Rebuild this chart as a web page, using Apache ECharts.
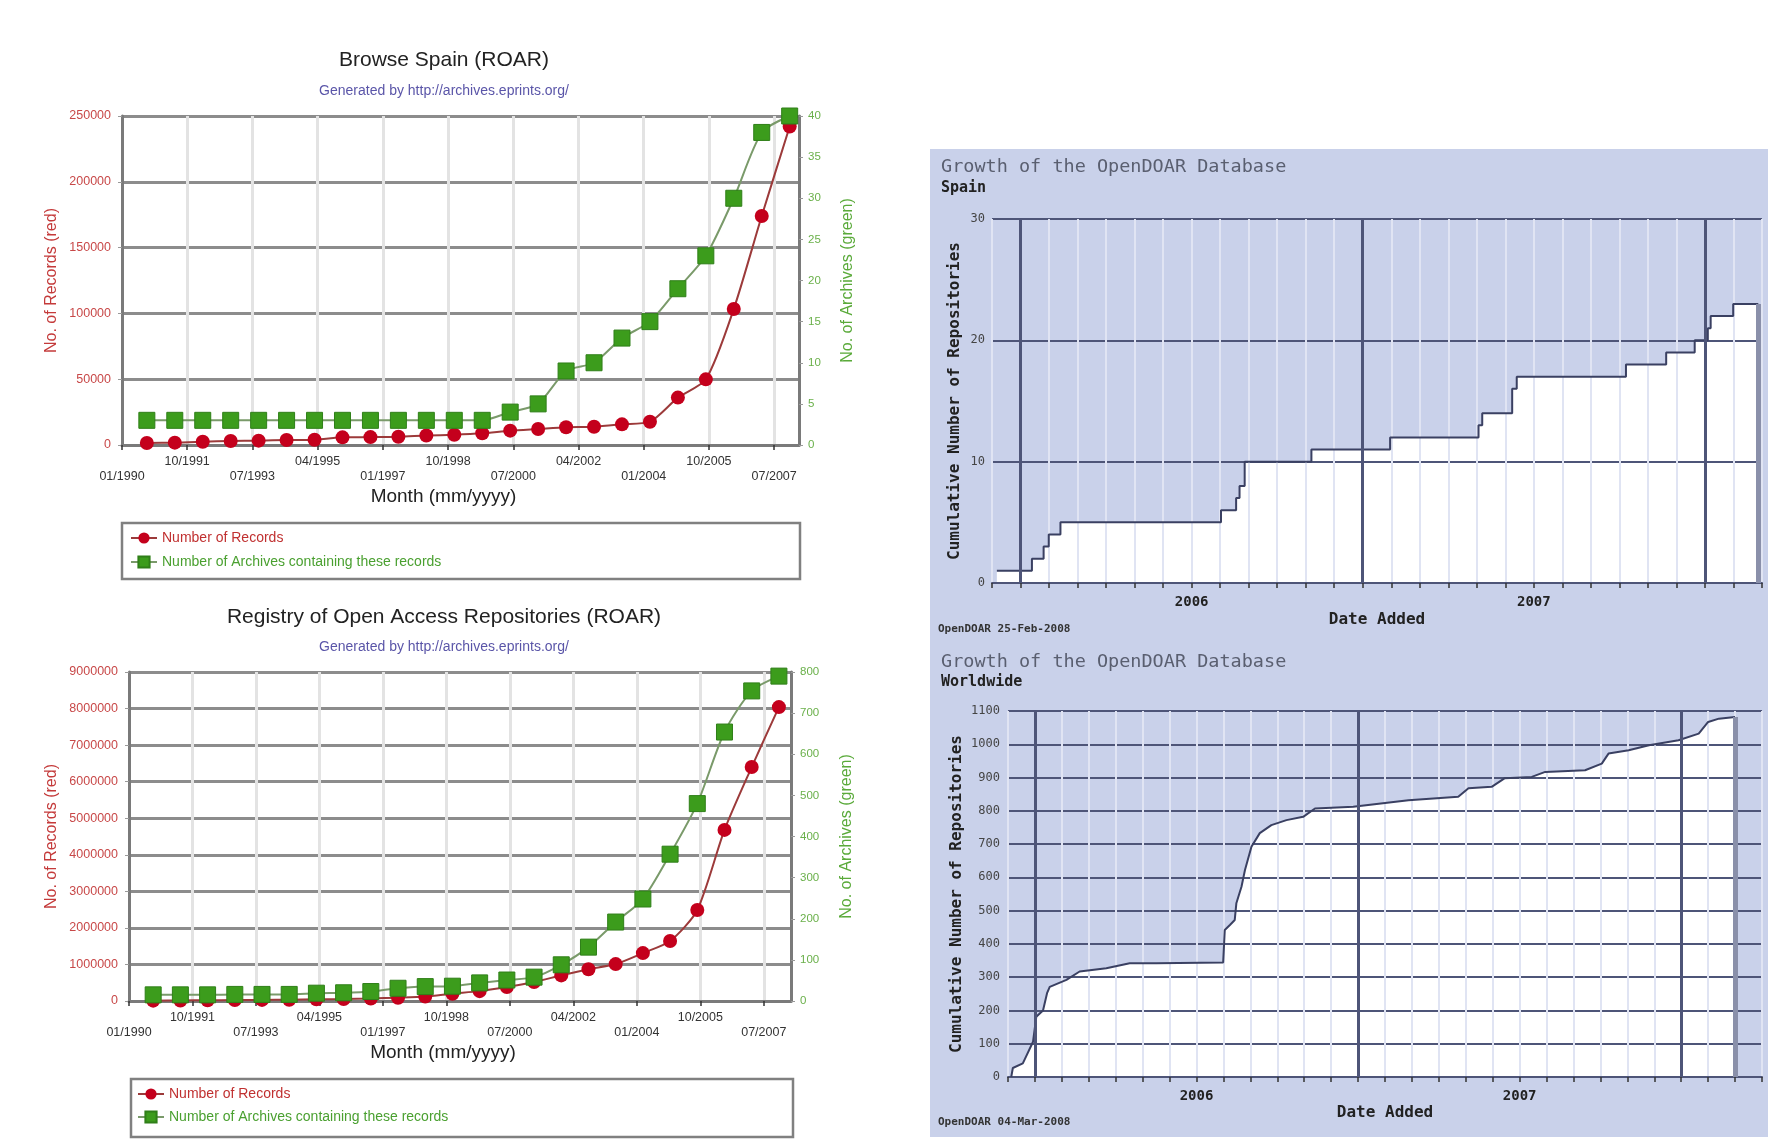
<!DOCTYPE html>
<html><head><meta charset="utf-8">
<script src="https://cdn.jsdelivr.net/npm/echarts@6/dist/echarts.min.js"></script>
<style>
html,body{margin:0;padding:0;background:#fff;}
#bg{position:absolute;left:930px;top:149px;width:838px;height:988px;background:#c9d1ea;}
#main{position:absolute;left:0;top:0;width:1778px;height:1145px;}
</style></head><body>
<div id="bg"></div><div id="main"></div>
<script>
// ---- ROAR (left) data: months counted from 01/1990 ----
const roarMonths = [8,17,26,35,44,53,62,71,80,89,98,107,116,125,134,143,152,161,170,179,188,197,206,215];
const spainRecords = [1500,1800,2500,3000,3300,3800,4000,5800,6000,6300,7200,7800,8900,10900,12200,13500,13900,15700,17700,36000,49900,103400,174000,242000];
const spainArchives = [3,3,3,3,3,3,3,3,3,3,3,3,3,4,5,9,10,13,15,19,23,30,38,40];
const worldRecords = [10000,15000,20000,25000,30000,35000,45000,55000,70000,90000,120000,200000,270000,380000,520000,700000,870000,1010000,1310000,1640000,2490000,4680000,6400000,8040000];
const worldArchives = [15,15,15,16,16,16,19,20,23,31,35,36,44,51,58,88,131,192,248,357,480,654,754,790];
const roarTickLabels = ['01/1990','10/1991','07/1993','04/1995','01/1997','10/1998','07/2000','04/2002','01/2004','10/2005','07/2007'];

// ---- OpenDOAR (right) data: months counted from Jan 2006 ----
const doarSpainMonths = [-0.83,0.40,0.81,0.99,1.40,7.03,7.56,7.68,7.86,10.20,12.96,16.06,16.19,17.24,17.40,21.23,22.64,23.64,24.10,24.20,24.99,25.87];
const doarSpainCounts = [1,2,3,4,5,6,7,8,10,11,12,13,14,16,17,18,19,20,21,22,23,23];
const doarWorldMonths = [-0.88,-0.82,-0.45,-0.07,0.05,0.30,0.45,0.55,1.17,1.66,2.65,3.52,4.51,6.99,7.05,7.24,7.42,7.48,7.67,7.80,8.04,8.35,8.78,9.34,9.96,10.40,11.82,13.87,15.72,16.10,16.96,17.45,18.45,18.95,20.43,21.05,21.30,22.05,22.80,23.90,24.65,25.00,25.40,26.00];
const doarWorldCounts = [0,27,41,106,181,200,252,271,292,317,327,342,342,344,442,457,472,522,572,622,692,733,757,772,782,807,812,832,842,868,872,898,902,917,922,942,972,982,997,1012,1032,1067,1077,1082];
const yearStarts = [0,12,24];
const yearLabelMonths = [6,18];
const yearLabels = ['2006','2007'];

const SANS = 'Liberation Sans, Arial, sans-serif';
const MONO = 'DejaVu Sans Mono, monospace';

const zip = (xs, ys) => xs.map((x, i) => [x, ys[i]]);
const spainPairs = zip(roarMonths, spainRecords);
const spainArchPairs = zip(roarMonths, spainArchives);
const worldPairs = zip(roarMonths, worldRecords);
const worldArchPairs = zip(roarMonths, worldArchives);
const doarSpain = zip(doarSpainMonths, doarSpainCounts);
const doarWorld = zip(doarWorldMonths, doarWorldCounts);

function roarXLabel(v) {
  if (v % 21 !== 0) return '';
  const i = v / 21;
  const s = roarTickLabels[i] || '';
  return i % 2 === 0 ? '\n' + s : s;
}
function doarXLabel(v) {
  const k = yearLabelMonths.indexOf(v);
  return k >= 0 ? yearLabels[k] : '';
}

function roarX(gridIndex, max) {
  return {
    type: 'value', gridIndex, min: 0, max, interval: 21,
    name: 'Month (mm/yyyy)', nameLocation: 'middle', nameGap: 42, nameMoveOverlap: false,
    nameTextStyle: {fontFamily: SANS, fontSize: 19, color: '#222', padding: [0, 34, 0, 0]},
    axisLine: {show: true, onZero: false, lineStyle: {color: '#7a7a7a', width: 3}},
    axisTick: {show: true, length: 5, lineStyle: {color: '#333', width: 1.5}},
    axisLabel: {formatter: roarXLabel, fontFamily: SANS, fontSize: 12.5, color: '#333', lineHeight: 15, margin: 9, showMaxLabel: false},
    splitLine: {show: true, lineStyle: {color: '#e3e3e3', width: 3}}
  };
}
function roarYLeft(gridIndex, max, interval, gap) {
  return {
    type: 'value', gridIndex, position: 'left', min: 0, max, interval,
    name: 'No. of Records (red)', nameLocation: 'middle', nameGap: gap, nameRotate: 90, nameMoveOverlap: false,
    nameTextStyle: {fontFamily: SANS, fontSize: 16, color: '#c43a3a'},
    axisLine: {show: true, lineStyle: {color: '#7a7a7a', width: 3}},
    axisTick: {show: true, length: 4, lineStyle: {color: '#999'}},
    axisLabel: {formatter: v => String(v), fontFamily: SANS, fontSize: 12.5, color: '#c84848', margin: 11},
    splitLine: {show: true, lineStyle: {color: '#8c8c8c', width: 3}}
  };
}
function roarYRight(gridIndex, max, interval, gap) {
  return {
    type: 'value', gridIndex, position: 'right', min: 0, max, interval,
    name: 'No. of Archives (green)', nameLocation: 'middle', nameGap: gap, nameRotate: 90, nameMoveOverlap: false,
    nameTextStyle: {fontFamily: SANS, fontSize: 16, color: '#5aaa3a'},
    axisLine: {show: true, lineStyle: {color: '#7a7a7a', width: 3}},
    axisTick: {show: true, length: 4, lineStyle: {color: '#999'}},
    axisLabel: {formatter: v => String(v), fontFamily: SANS, fontSize: 11.5, color: '#6ab04a', margin: 9},
    splitLine: {show: false}
  };
}
function doarX(gridIndex, max, gap) {
  return {
    type: 'value', gridIndex, min: -1, max, interval: 1,
    name: 'Date Added', nameLocation: 'middle', nameGap: gap, nameMoveOverlap: false,
    nameTextStyle: {fontFamily: MONO, fontWeight: 'bold', fontSize: 16, color: '#222'},
    axisLine: {show: true, onZero: false, lineStyle: {color: '#4e5578', width: 2}},
    axisTick: {show: true, length: 5, lineStyle: {color: '#333', width: 1.5}},
    axisLabel: {formatter: doarXLabel, fontFamily: MONO, fontWeight: 'bold', fontSize: 14, color: '#222', margin: 12},
    splitLine: {show: true, lineStyle: {color: '#e0e4f3', width: 2}}
  };
}
function doarY(gridIndex, max, interval, gap, margin) {
  return {
    type: 'value', gridIndex, min: 0, max, interval,
    name: 'Cumulative Number of Repositories', nameLocation: 'middle', nameGap: gap, nameRotate: 90, nameMoveOverlap: false,
    nameTextStyle: {fontFamily: MONO, fontWeight: 'bold', fontSize: 16, color: '#222'},
    axisLine: {show: true, lineStyle: {color: '#4e5578', width: 2}},
    axisTick: {show: true, length: 4, lineStyle: {color: '#4e5578'}},
    axisLabel: {formatter: v => String(v), fontFamily: MONO, fontSize: 12, color: '#444', margin},
    splitLine: {show: true, lineStyle: {color: '#4e5578', width: 2}}
  };
}
function recSeries(xi, yi, data) {
  return {name: 'Number of Records', type: 'line', xAxisIndex: xi, yAxisIndex: yi, data,
    symbol: 'circle', symbolSize: 14, smooth: 0.25,
    itemStyle: {color: '#c4001c'}, lineStyle: {color: '#9c3a3a', width: 2}, z: 3};
}
function archSeries(xi, yi, data) {
  return {name: 'Number of Archives containing these records', type: 'line', xAxisIndex: xi, yAxisIndex: yi, data,
    symbol: 'rect', symbolSize: 16, smooth: 0.25,
    itemStyle: {color: '#3c9c1c', borderColor: '#2f7f18', borderWidth: 1}, lineStyle: {color: '#7a9a6a', width: 2}, z: 4};
}
function doarSeries(xi, yi, data, step) {
  const last = data[data.length - 1];
  return [
    {type: 'line', xAxisIndex: xi, yAxisIndex: yi, data, step, symbol: 'none', silent: true,
      lineStyle: {width: 0, opacity: 0}, areaStyle: {color: '#ffffff', opacity: 1}, z: -1},
    {type: 'line', xAxisIndex: xi, yAxisIndex: yi, data, step, symbol: 'none', silent: true,
      lineStyle: {color: '#3a4062', width: 2}, z: 3,
      markLine: {silent: true, symbol: 'none', label: {show: false}, animation: false,
        lineStyle: {type: 'solid', color: '#8a90aa', width: 5},
        data: yearStarts.map(v => ({xAxis: v, lineStyle: {type: 'solid', color: '#4e5578', width: 3}}))
          .concat([[{coord: [last[0], 0]}, {coord: [last[0], last[1]]}]])}}
  ];
}
function legendFor(left, top, gap) {
  return {left, top, orient: 'vertical', itemGap: gap, itemWidth: 26, itemHeight: 14, padding: 0, selectedMode: false,
    textStyle: {fontFamily: SANS, fontSize: 14},
    data: [{name: 'Number of Records', textStyle: {color: '#c03030'}},
           {name: 'Number of Archives containing these records', textStyle: {color: '#4aa030'}}]};
}
const tt = (text, left, top, style, align) => ({text, left, top, padding: 0, textAlign: align || 'left',
  textStyle: Object.assign({fontWeight: 'normal'}, style)});

const option = {
  animation: false,
  backgroundColor: 'transparent',
  title: [
    tt('Browse Spain (ROAR)', 444, 50, {fontFamily: SANS, fontSize: 21, color: '#222'}, 'center'),
    tt('Generated by http://archives.eprints.org/', 444, 84, {fontFamily: SANS, fontSize: 14, color: '#5a55a8'}, 'center'),
    tt('Registry of Open Access Repositories (ROAR)', 444, 607, {fontFamily: SANS, fontSize: 21, color: '#222'}, 'center'),
    tt('Generated by http://archives.eprints.org/', 444, 640, {fontFamily: SANS, fontSize: 14, color: '#5a55a8'}, 'center'),
    tt('Growth of the OpenDOAR Database', 941, 158, {fontFamily: MONO, fontSize: 18.5, color: '#5a5f70'}),
    tt('Spain', 941, 181, {fontFamily: MONO, fontSize: 15, fontWeight: 'bold', color: '#222'}),
    tt('Growth of the OpenDOAR Database', 941, 653, {fontFamily: MONO, fontSize: 18.5, color: '#5a5f70'}),
    tt('Worldwide', 941, 675, {fontFamily: MONO, fontSize: 15, fontWeight: 'bold', color: '#222'}),
    tt('OpenDOAR 25-Feb-2008', 938, 624, {fontFamily: MONO, fontSize: 11, fontWeight: 'bold', color: '#333'}),
    tt('OpenDOAR 04-Mar-2008', 938, 1117, {fontFamily: MONO, fontSize: 11, fontWeight: 'bold', color: '#333'})
  ],
  graphic: [
    {type: 'rect', shape: {x: 122, y: 523, width: 678, height: 56}, style: {fill: '#fff', stroke: '#808080', lineWidth: 2.5}},
    {type: 'rect', shape: {x: 131, y: 1079, width: 662, height: 58}, style: {fill: '#fff', stroke: '#808080', lineWidth: 2.5}}
  ],
  legend: [legendFor(130, 531, 10), legendFor(137, 1087, 9)],
  grid: [
    {left: 122, top: 116, width: 677, height: 329, outerBoundsMode: 'none'},
    {left: 129, top: 672, width: 662, height: 329, outerBoundsMode: 'none'},
    {left: 992, top: 219, width: 770, height: 364, show: true, borderColor: '#4e5578', borderWidth: 1, backgroundColor: 'transparent', outerBoundsMode: 'none'},
    {left: 1008, top: 711, width: 754, height: 366, show: true, borderColor: '#4e5578', borderWidth: 1, backgroundColor: 'transparent', outerBoundsMode: 'none'}
  ],
  xAxis: [roarX(0, 218), roarX(1, 219), doarX(2, 26, 29), doarX(3, 27, 28)],
  yAxis: [
    roarYLeft(0, 250000, 50000, 62), roarYRight(0, 40, 5, 41),
    roarYLeft(1, 9000000, 1000000, 69), roarYRight(1, 800, 100, 48),
    doarY(2, 30, 10, 29, 7), doarY(3, 1100, 100, 43, 8)
  ],
  series: [
    recSeries(0, 0, spainPairs), archSeries(0, 1, spainArchPairs),
    recSeries(1, 2, worldPairs), archSeries(1, 3, worldArchPairs),
    ...doarSeries(2, 4, doarSpain, 'end'),
    ...doarSeries(3, 5, doarWorld, false)
  ]
};
const chart = echarts.init(document.getElementById('main'));
chart.setOption(option);
</script>
</body></html>
